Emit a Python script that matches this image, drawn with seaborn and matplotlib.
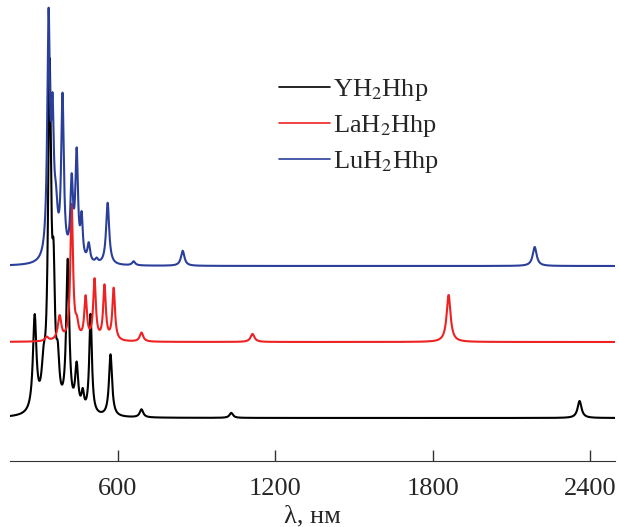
import numpy as np
import pandas as pd
import matplotlib
matplotlib.use("Agg")
import matplotlib.pyplot as plt
import seaborn as sns

# peak positions (nm), heights (arb.), half widths (nm)
y_pos = [284, 318, 341, 356, 372, 410, 444, 467, 497, 573, 691, 1033, 2360]
y_amp = [95, 35, 335, 105, 40, 150, 45, 18, 100, 62, 8, 5, 17]
y_wid = [8, 9, 7, 6, 7, 7, 7, 6, 6, 7, 8, 8, 9]

la_pos = [330, 379, 425, 445, 478, 512, 550, 585, 691, 1114, 1861]
la_amp = [4, 24, 135, 13, 42, 60, 54, 52, 9, 8, 47]
la_wid = [8, 8, 6, 7, 6, 6, 6, 6, 8, 9, 9]

lu_pos = [337, 352, 365, 390, 425, 444, 463, 490, 520, 562, 661, 848, 2189]
lu_amp = [235, 125, 40, 160, 75, 105, 40, 18, 4, 62, 4, 15, 19]
lu_wid = [6, 6, 8, 6, 6, 6, 5, 6, 6, 7, 7, 8, 9]

names = ["YH$_2$Hhp", "LaH$_2$Hhp", "LuH$_2$Hhp"]
offsets = [0, 76, 152]
colors = ["black", "#ee2222", "#2a3f9a"]

wl = np.linspace(190, 2495, 6000)


def spectrum(pos, amp, wid):
    s = np.zeros_like(wl)
    for p, a, w in zip(pos, amp, wid):
        s += a * w**2 / ((wl - p) ** 2 + w**2)
    return s


peaks = [(y_pos, y_amp, y_wid), (la_pos, la_amp, la_wid), (lu_pos, lu_amp, lu_wid)]
frames = []
for name, off, (p, a, w) in zip(names, offsets, peaks):
    frames.append(pd.DataFrame({"wl": wl, "I": spectrum(p, a, w) + off, "name": name}))
df = pd.concat(frames)

sns.set_style("white")
plt.rcParams["font.family"] = ["Liberation Serif", "DejaVu Serif"]
plt.rcParams["mathtext.fontset"] = "stix"

fig = plt.figure(figsize=(6.19, 5.27), dpi=100)
ax = fig.add_axes([10 / 619, 66 / 527, 605 / 619, 461 / 527])
sns.lineplot(data=df, x="wl", y="I", hue="name", palette=colors,
             linewidth=1.5, ax=ax, legend=False)

for name, c in zip(names, colors):
    ax.plot([], [], color=c, lw=1.2, label=name)
ax.legend(loc="upper left", bbox_to_anchor=(258 / 605, 0.855), frameon=False,
          fontsize=19, handlelength=1.95, handletextpad=0.1, labelspacing=0.38,
          borderaxespad=0)

ax.set_xlim(190, 2495)
ax.set_ylim(-43, 418)
ax.set_xticks([600, 1200, 1800, 2400])
ax.set_yticks([])
ax.tick_params(axis="x", bottom=True, direction="in", length=8, width=1,
               color="#333333", labelsize=19, pad=12)
for s in ["left", "right", "top"]:
    ax.spines[s].set_visible(False)
ax.spines["bottom"].set_color("#333333")
ax.set_xlabel("λ, нм", fontsize=19, labelpad=4)
ax.set_ylabel("")

fig.savefig("out.png", dpi=100)
